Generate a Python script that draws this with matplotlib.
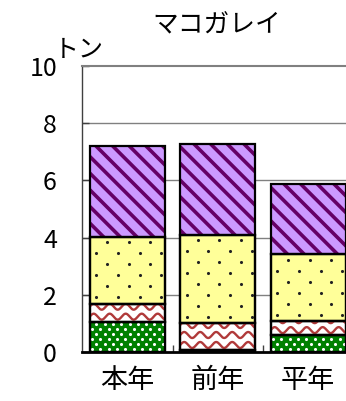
import numpy as np
import matplotlib
matplotlib.use('Agg')
from matplotlib import pyplot as plt

plt.rcParams['font.family'] = ['Noto Sans CJK JP', 'DejaVu Sans']
plt.rcParams['hatch.linewidth'] = 2.6

# ### data (tons), stacked bottom -> top
categories = ['本年', '前年', '平年']
green_dot  = [1.06, 0.07, 0.59]
red_wave   = [0.62, 0.93, 0.49]
yellow_dot = [2.35, 3.09, 2.34]
purple     = [3.17, 3.18, 2.44]
yticks     = [0, 2, 4, 6, 8, 10]

W, H = 346, 401
fig = plt.figure(figsize=(W/100, H/100), dpi=100)
ax = fig.add_axes([82/W, 49/H, 271.5/W, 286/H])
ax.set_xlim(-0.5, 2.5)
ax.set_ylim(0, 10)

x = np.arange(len(categories))
bw = 0.83


def px(dx, dy):
    inv = ax.transData.inverted()
    a = inv.transform((0, 0))
    b = inv.transform((dx, dy))
    return b[0]-a[0], b[1]-a[1]


def dots(bars, sx, sy, color, size):
    dx, dy = px(sx, sy)
    for p in bars.patches:
        x0, y0, w, h = p.get_x(), p.get_y(), p.get_width(), p.get_height()
        if h <= 0:
            continue
        pts = []
        row = 0
        yy = y0 + dy*0.6
        while yy < y0 + h:
            off = (dx/2) if row % 2 else 0
            xx = x0 + dx*0.3 + off
            while xx < x0 + w:
                pts.append((xx, yy))
                xx += dx
            yy += dy
            row += 1
        if pts:
            pts = np.array(pts)
            sc = ax.scatter(pts[:, 0], pts[:, 1], s=size, color=color,
                            linewidths=0, zorder=3)
            sc.set_clip_path(p)


def waves(bars, period, amp, spacing, color):
    dxp, _ = px(period, 0)
    _, dya = px(0, amp)
    _, dys = px(0, spacing)
    for p in bars.patches:
        x0, y0, w, h = p.get_x(), p.get_y(), p.get_width(), p.get_height()
        xs = np.linspace(x0, x0 + w, 200)
        yy = y0 + dys*0.5
        while yy < y0 + h + dys:
            ys = yy + dya*np.sin(2*np.pi*(xs - x0)/dxp)
            ln, = ax.plot(xs, ys, color=color, lw=1.7, zorder=3,
                          solid_capstyle='butt')
            ln.set_clip_path(p)
            yy += dys


bottom = np.zeros(len(categories))
b1 = ax.bar(x, green_dot, bw, bottom=bottom, color='#008000',
            edgecolor='black', lw=1.6, zorder=2)
dots(b1, 8.3, 5, 'white', 5)
bottom += green_dot

b2 = ax.bar(x, red_wave, bw, bottom=bottom, color='white',
            edgecolor='black', lw=1.6, zorder=2)
waves(b2, 16, 3.0, 10, '#B03A3A')
bottom += red_wave

b3 = ax.bar(x, yellow_dot, bw, bottom=bottom, color='#FFFF99',
            edgecolor='black', lw=1.6, zorder=2)
dots(b3, 21.7, 11, '#222222', 5)
bottom += yellow_dot

ax.bar(x, purple, bw, bottom=bottom, color='#CC99FF', lw=0, zorder=2)
ax.bar(x, purple, bw, bottom=bottom, fill=False, hatch='\\\\',
       edgecolor='#660066', lw=0, zorder=3)
ax.bar(x, purple, bw, bottom=bottom, fill=False, edgecolor='black',
       lw=1.6, zorder=4)
# redraw outlines of lower segments above textures
for vals, bot in [(green_dot, 0), (red_wave, np.array(green_dot)),
                  (yellow_dot, np.array(green_dot) + np.array(red_wave))]:
    ax.bar(x, vals, bw, bottom=bot, fill=False, edgecolor='black',
           lw=1.6, zorder=4)

for y in yticks[1:-1]:
    ax.axhline(y, color='#808080', lw=1, zorder=0)

ax.set_yticks(yticks)
ax.set_yticklabels([str(v) for v in yticks], fontsize=18)
ax.tick_params(axis='y', direction='in', length=5, width=1,
               color='#404040', pad=18)
ax.set_xticks(x)
ax.set_xticklabels(categories, fontsize=19.5)
ax.tick_params(axis='x', length=0, pad=11)
ax.set_xticks([0.5, 1.5], minor=True)
ax.tick_params(axis='x', which='minor', direction='in', length=5,
               width=1, color='#404040')

ax.spines['left'].set_color('#404040')
ax.spines['left'].set_linewidth(1)
ax.spines['top'].set_color('#808080')
ax.spines['top'].set_linewidth(1.5)
ax.spines['bottom'].set_color('black')
ax.spines['bottom'].set_linewidth(2)
ax.spines['right'].set_visible(False)

fig.text(217/W, 1 - 25/H, 'マコガレイ', ha='center', va='center', fontsize=18.5)
fig.text(79/W, 1 - 50/H, 'トン', ha='center', va='center', fontsize=18)

fig.savefig('out.png', dpi=100)
